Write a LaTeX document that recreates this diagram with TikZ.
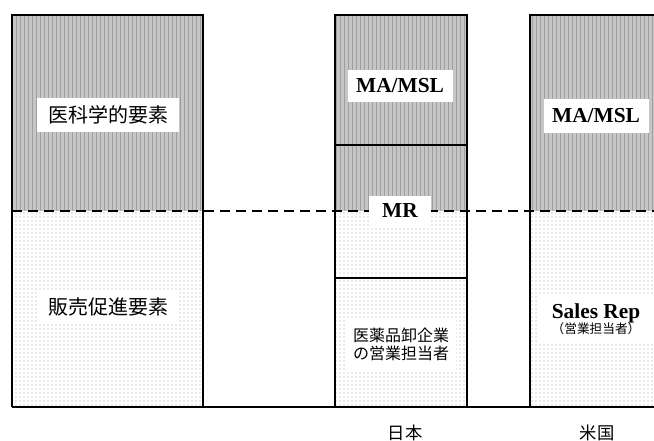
\documentclass[tikz,border=0pt]{standalone}
\usepackage{fontspec}
\setmainfont{Liberation Serif}
\newfontfamily\jp{Noto Sans CJK JP}
\usetikzlibrary{patterns}
\begin{document}
\begin{tikzpicture}[x=0.75pt,y=-0.75pt,
  upper/.style={fill=gray!45, postaction={pattern=vertical lines, pattern color=gray!75}},
  lower/.style={fill=white, postaction={pattern=dots, pattern color=gray!70}},
  border/.style={draw=black, line width=1.5pt},
  divider/.style={draw=black, line width=1.3pt},
  dashline/.style={draw=black, line width=2pt, dash pattern=on 7.5pt off 4.5pt},
  baseline/.style={draw=black, line width=2pt},
  lbl/.style={fill=white, inner sep=0pt, align=center},
  jpbig/.style={lbl, font=\jp\fontsize{15}{18}\selectfont},
  enbig/.style={lbl, font=\bfseries\fontsize{16}{18}\selectfont},
  country/.style={font=\jp\fontsize{13}{15}\selectfont, inner sep=0pt}]
\useasboundingbox (0,0) rectangle (654,441);
\begin{scope}
\clip (0,0) rectangle (654,441);
% upper / lower fills
\path[upper] (12,15) rectangle (203,211);
\path[lower] (12,211) rectangle (203,407);
\path[upper] (335,15) rectangle (467,211);
\path[lower] (335,211) rectangle (467,407);
\path[upper] (530,15) rectangle (662,211);
\path[lower] (530,211) rectangle (662,407);
% Japan dividers
\coordinate (jl1) at (335,145); \coordinate (jr1) at (467,145);
\coordinate (jl2) at (335,278); \coordinate (jr2) at (467,278);
\draw[divider] (jl1) -- (jr1);
\draw[divider] (jl2) -- (jr2);
% borders
\draw[border] (12,407) -- (12,15) -- (203,15) -- (203,407);
\draw[border] (335,407) -- (335,15) -- (467,15) -- (467,407);
\draw[border] (530,407) -- (530,15) -- (662,15) -- (662,407);
% dashed line and base line
\coordinate (dl) at (12,211); \coordinate (dr) at (654,211);
\draw[dashline] (dl) -- (dr);
\coordinate (bl) at (12,407); \coordinate (br) at (654,407);
\draw[baseline] (bl) -- (br);
% labels
\node[jpbig, minimum width=106.5pt, minimum height=25.5pt] (med) at (108,115) {医科学的要素};
\node[jpbig, minimum width=106.5pt, minimum height=26pt] (sales) at (108,307) {販売促進要素};
\node[enbig, minimum width=78.75pt, minimum height=24pt] (jpma) at (400,86) {MA/MSL};
\node[enbig, minimum width=47pt, minimum height=22.5pt] (mr) at (400,211) {MR};
\node[lbl, font=\jp\fontsize{12}{13.5}\selectfont, minimum width=82pt, minimum height=39pt] (whole) at (401,344) {医薬品卸企業\\の営業担当者};
\node[enbig, minimum width=78.75pt, minimum height=25.5pt] (usma) at (596,116) {MA/MSL};
\node[lbl, minimum width=87pt, minimum height=36pt] (usrep) at (596,319) {{\bfseries\fontsize{16}{17}\selectfont Sales Rep}\\[-1pt]{\jp\fontsize{9.5}{11}\selectfont （営業担当者）}};
\node[country] (jp) at (405,433) {日本};
\node[country] (us) at (597,433) {米国};
\end{scope}
\end{tikzpicture}
\end{document}
